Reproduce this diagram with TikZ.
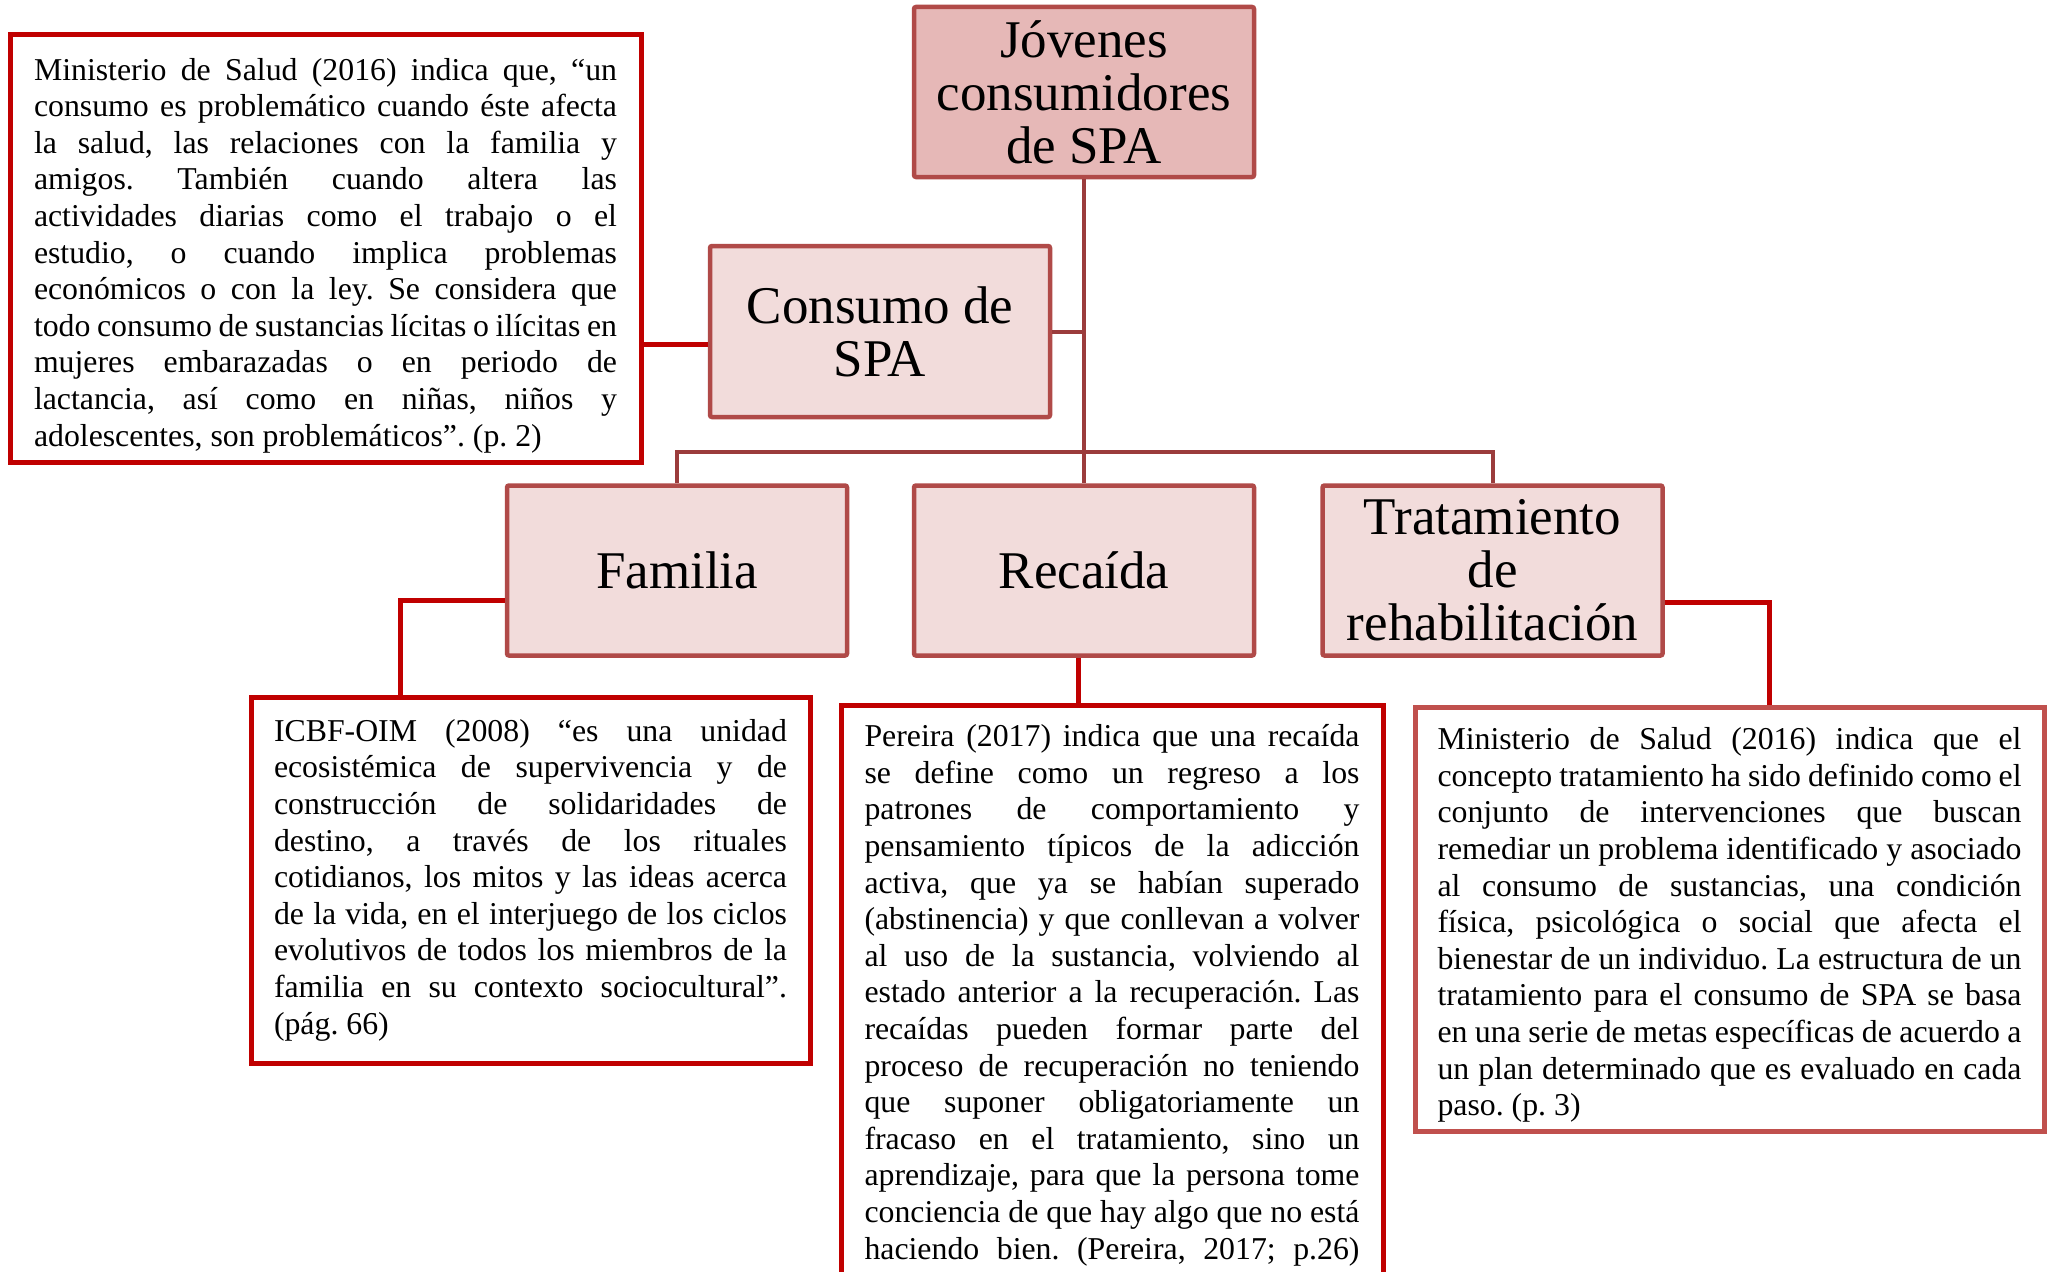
\documentclass[tikz,border=0pt]{standalone}
\usepackage{fontspec}
\setmainfont{Liberation Serif}
\usepackage{tikz}
\usetikzlibrary{positioning,calc}
\frenchspacing

\definecolor{temaline}{RGB}{176,74,72}
\definecolor{temafill}{RGB}{242,220,219}
\definecolor{topfill}{RGB}{230,184,183}
\definecolor{troncoline}{RGB}{155,60,60}
\definecolor{citared}{RGB}{192,0,0}
\definecolor{citasoft}{RGB}{192,80,77}

% one justified line of a quote box
\newcommand{\jl}[1]{\makebox[\linewidth][s]{#1}}

\tikzset{
    tronco/.style={draw=troncoline, line width=4pt},
    enlace/.style={draw=citared, line width=5pt}
}

\begin{document}
\begin{tikzpicture}[
            x=1pt, y=-1pt,
            tema/.style={rectangle, draw=temaline, fill=temafill, line width=4.5pt, rounded corners=2pt, minimum width=340pt, minimum height=170pt, inner sep=0pt, align=center, font=\fontsize{53}{53}\selectfont},
            cita/.style={rectangle, draw=citared, fill=white, line width=5pt, inner sep=0pt, font=\fontsize{31.8}{36.6}\selectfont}
        ]
            \clip (0,0) rectangle (2052,1271);

            % Level 1
            \node[tema, fill=topfill] (jovenes) at (1084,92) {Jóvenes\\consumidores\\de SPA};

            % Level 2
            \node[tema, minimum height=171pt] (consumo) at (880,331.5) {Consumo de\\SPA};
            \coordinate (rama) at (1084,452);

            % Level 3
            \node[tema] (familia) at (677,570.5) {Familia};
            \node[tema] (recaida) at (1084,570.5) {Recaída};
            \node[tema] (tratamiento) at (1492.5,570.5) {Tratamiento\\de\\rehabilitación};

            % Quotes
            \node[cita, minimum width=631pt, minimum height=427pt] (defconsumo) at (325.5,248.5) {\parbox{583pt}{%
                \vspace{14pt}
                \jl{Ministerio de Salud (2016) indica que, “un}\\
                \jl{consumo es problemático cuando éste afecta}\\
                \jl{la salud, las relaciones con la familia y}\\
                \jl{amigos. También cuando altera las}\\
                \jl{actividades diarias como el trabajo o el}\\
                \jl{estudio, o cuando implica problemas}\\
                \jl{económicos o con la ley. Se considera que}\\
                \jl{todo consumo de sustancias lícitas o ilícitas en}\\
                \jl{mujeres embarazadas o en periodo de}\\
                \jl{lactancia, así como en niñas, niños y}\\
                adolescentes, son problemáticos”. (p. 2)}};

            \node[cita, minimum width=559pt, minimum height=366pt] (deffamilia) at (530.5,880) {\parbox{513pt}{%
                \jl{ICBF-OIM (2008) “es una unidad}\\
                \jl{ecosistémica de supervivencia y de}\\
                \jl{construcción de solidaridades de}\\
                \jl{destino, a través de los rituales}\\
                \jl{cotidianos, los mitos y las ideas acerca}\\
                \jl{de la vida, en el interjuego de los ciclos}\\
                \jl{evolutivos de todos los miembros de la}\\
                \jl{familia en su contexto sociocultural”.}\\
                (pág. 66)}};

            \node[cita, anchor=north, inner xsep=23.5pt, inner ysep=19pt] (defrecaida) at (1112,703) {\parbox[c][700pt][t]{495pt}{%
                \jl{Pereira (2017) indica que una recaída}\\
                \jl{se define como un regreso a los}\\
                \jl{patrones de comportamiento y}\\
                \jl{pensamiento típicos de la adicción}\\
                \jl{activa, que ya se habían superado}\\
                \jl{(abstinencia) y que conllevan a volver}\\
                \jl{al uso de la sustancia, volviendo al}\\
                \jl{estado anterior a la recuperación. Las}\\
                \jl{recaídas pueden formar parte del}\\
                \jl{proceso de recuperación no teniendo}\\
                \jl{que suponer obligatoriamente un}\\
                \jl{fracaso en el tratamiento, sino un}\\
                \jl{aprendizaje, para que la persona tome}\\
                \jl{conciencia de que hay algo que no está}\\
                \jl{haciendo bien. (Pereira, 2017; p.26)}}};

            \node[cita, draw=citasoft, minimum width=629pt, minimum height=424pt] (deftratamiento) at (1729.5,919) {\parbox{584pt}{%
                \vspace{12pt}
                \jl{Ministerio de Salud (2016) indica que el}\\
                \jl{concepto tratamiento ha sido definido como el}\\
                \jl{conjunto de intervenciones que buscan}\\
                \jl{remediar un problema identificado y asociado}\\
                \jl{al consumo de sustancias, una condición}\\
                \jl{física, psicológica o social que afecta el}\\
                \jl{bienestar de un individuo. La estructura de un}\\
                \jl{tratamiento para el consumo de SPA se basa}\\
                \jl{en una serie de metas específicas de acuerdo a}\\
                \jl{un plan determinado que es evaluado en cada}\\
                paso. (p. 3)}};

            % Tree
            \draw[tronco] (jovenes) -- (rama);
            \draw[tronco] (consumo.east) -- (consumo.east -| rama);
            \draw[tronco] (familia.north) |- (rama) -| (tratamiento.north);
            \draw[tronco] (rama) -- (recaida);

            % Links to quotes
            \coordinate (ce) at ([yshift=-12.5pt]consumo.west);
            \coordinate (fe) at ([yshift=-29.5pt]familia.west);
            \coordinate (te) at ([yshift=-31.5pt]tratamiento.east);
            \draw[enlace] (ce) -- (ce -| defconsumo.east);
            \draw[enlace] (fe) -| ([xshift=152pt]deffamilia.north west);
            \draw[enlace] ([xshift=-6pt]recaida.south) -- ([xshift=-34pt]defrecaida.north);
            \draw[enlace] (te) -| ([xshift=357pt]deftratamiento.north west);

        \end{tikzpicture}
\end{document}
